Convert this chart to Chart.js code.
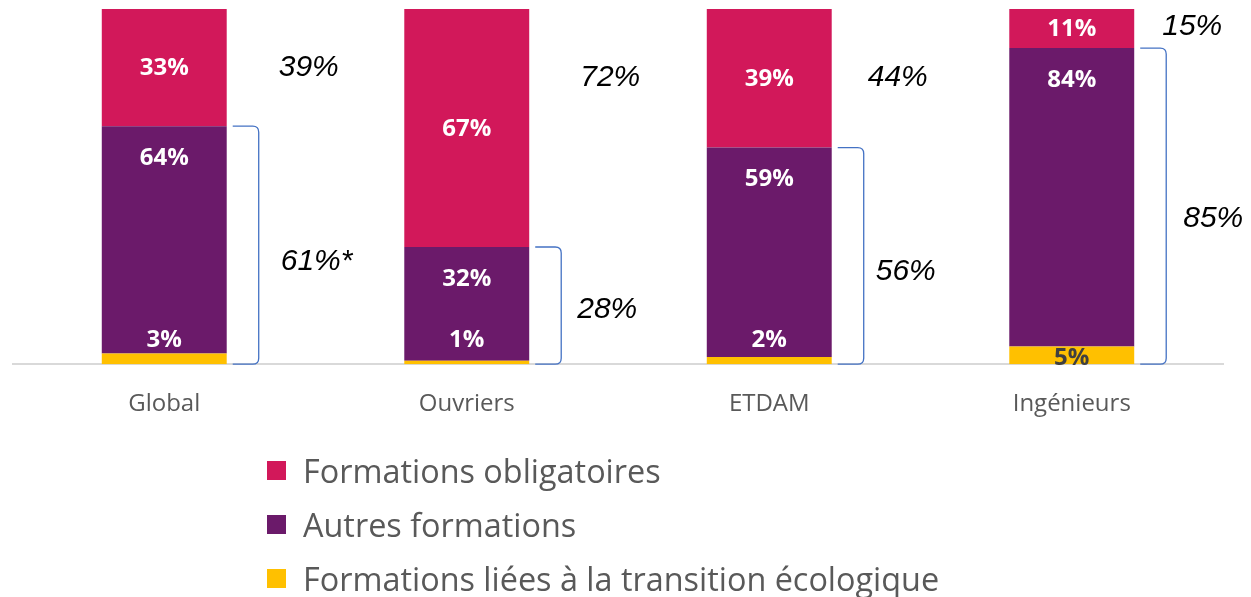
<!DOCTYPE html>
<html>
<head>
<meta charset="utf-8">
<script src="https://cdn.jsdelivr.net/npm/chart.js@4"></script>
<style>
  html, body { margin: 0; padding: 0; background: #fff; }
  #wrap { position: relative; width: 1251px; height: 597px; }
  #legend { position: absolute; left: 267px; top: 443px; font-family: "Open Sans", sans-serif; font-size: 32.4px; color: #595959; }
  #legend div { height: 54px; display: flex; align-items: center; white-space: nowrap; }
  #legend span.box { display: inline-block; width: 19px; height: 19px; margin-right: 17px; flex: none; }
</style>
</head>
<body>
<div id="wrap">
  <canvas id="chart" width="1251" height="597"></canvas>
  <div id="legend"></div>
</div>
<script>
// categories and series (percent)
const categories = ['Global', 'Ouvriers', 'ETDAM', 'Ingénieurs'];
const transition = [3, 1, 2, 5];
const autres = [64, 32, 59, 84];
const obligatoires = [33, 67, 39, 11];

// side notes
const noteTop = ['39%', '72%', '44%', '15%'];
const noteBottom = ['61%*', '28%', '56%', '85%'];
// where the notes sit (value on the y scale, px right of the bar)
const noteTopAt = [83.5, 80.7, 80.7, 95];
const noteBottomAt = [28.9, 15.4, 26, 40.9];
const noteTopDx = [52, 51, 36, 28];
const noteBottomDx = [54, 48, 44, 49];

const colors = {
  obligatoires: '#D2185A',
  autres: '#6B1A6A',
  transition: '#FFC000'
};

const labelsPlugin = {
  id: 'barLabels',
  afterDatasetsDraw(chart) {
    const ctx = chart.ctx;
    ctx.save();
    ctx.font = 'bold 24px "Open Sans", sans-serif';
    ctx.textAlign = 'center';
    ctx.textBaseline = 'middle';
    chart.data.datasets.forEach((ds, di) => {
      const meta = chart.getDatasetMeta(di);
      meta.data.forEach((bar, i) => {
        const v = ds.data[i];
        const top = Math.min(bar.y, bar.base);
        const bottom = Math.max(bar.y, bar.base);
        let y = (top + bottom) / 2;
        ctx.fillStyle = '#fff';
        if (ds.key === 'autres') y = top + 31;
        if (ds.key === 'transition') {
          if (v >= 5) { ctx.fillStyle = '#404040'; y = bottom - 7; }
          else y = bottom - 25;
        }
        ctx.fillText(v + '%', bar.x, y + 1);
      });
    });
    ctx.restore();
  }
};

const notesPlugin = {
  id: 'notes',
  afterDatasetsDraw(chart) {
    const ctx = chart.ctx;
    const yScale = chart.scales.y;
    const metaA = chart.getDatasetMeta(1);
    const metaT = chart.getDatasetMeta(0);
    ctx.save();
    categories.forEach((c, i) => {
      const bar = metaA.data[i];
      const right = bar.x + bar.width / 2;
      // bracket round autres + transition
      const yTop = bar.y;
      const yBot = metaT.data[i].base;
      const x0 = right + 6, x1 = right + 32, r = 6;
      ctx.strokeStyle = '#4472C4';
      ctx.lineWidth = 1.3;
      ctx.beginPath();
      ctx.moveTo(x0, yTop);
      ctx.lineTo(x1 - r, yTop);
      ctx.quadraticCurveTo(x1, yTop, x1, yTop + r);
      ctx.lineTo(x1, yBot - r);
      ctx.quadraticCurveTo(x1, yBot, x1 - r, yBot);
      ctx.lineTo(x0, yBot);
      ctx.stroke();

      ctx.fillStyle = '#000';
      ctx.font = 'italic 30px "Liberation Sans", Arial, sans-serif';
      ctx.textAlign = 'left';
      ctx.textBaseline = 'middle';
      ctx.fillText(noteTop[i], right + noteTopDx[i], yScale.getPixelForValue(noteTopAt[i]));
      ctx.fillText(noteBottom[i], right + noteBottomDx[i], yScale.getPixelForValue(noteBottomAt[i]));
    });
    ctx.restore();
  }
};

const datasets = [
  { key: 'transition', label: 'Formations liées à la transition écologique', data: transition, backgroundColor: colors.transition },
  { key: 'autres', label: 'Autres formations', data: autres, backgroundColor: colors.autres },
  { key: 'obligatoires', label: 'Formations obligatoires', data: obligatoires, backgroundColor: colors.obligatoires }
];

new Chart(document.getElementById('chart'), {
  type: 'bar',
  data: { labels: categories, datasets },
  options: {
    responsive: false,
    animation: false,
    layout: { padding: { top: 9, left: 13, right: 28, bottom: 152 } },
    datasets: { bar: { barPercentage: 1, categoryPercentage: 0.413 } },
    plugins: { legend: { display: false }, tooltip: { enabled: false } },
    scales: {
      x: {
        stacked: true,
        grid: { display: false, drawTicks: false },
        border: { color: '#D9D9D9', width: 2 },
        ticks: { color: '#595959', font: { family: '"Open Sans", sans-serif', size: 24 }, padding: 26 }
      },
      y: { stacked: true, display: false, min: 0, max: 100 }
    }
  },
  plugins: [labelsPlugin, notesPlugin]
});

// legend, top to bottom
const legend = document.getElementById('legend');
[datasets[2], datasets[1], datasets[0]].forEach(ds => {
  const row = document.createElement('div');
  row.innerHTML = '<span class="box" style="background:' + ds.backgroundColor + '"></span>' + ds.label;
  legend.appendChild(row);
});
</script>
</body>
</html>
